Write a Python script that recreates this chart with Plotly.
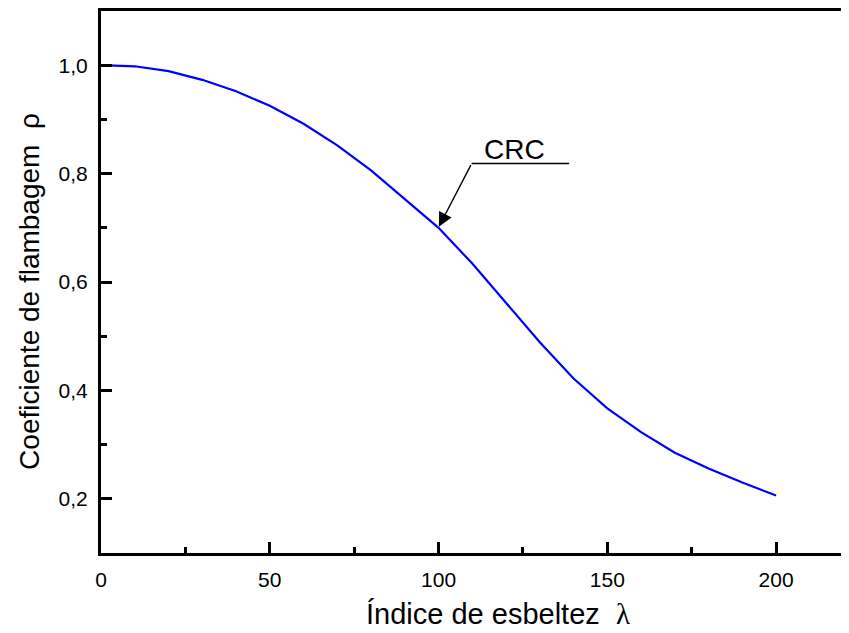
import plotly.graph_objects as go

slenderness = [0, 10, 20, 30, 40, 50, 60, 70, 80, 90, 100, 110, 120, 130, 140, 150, 160, 170, 180, 190, 200]
rho_crc = [1.000, 0.998, 0.989, 0.973, 0.952, 0.925, 0.892, 0.852, 0.806, 0.753, 0.700,
           0.634, 0.562, 0.489, 0.422, 0.367, 0.323, 0.285, 0.256, 0.230, 0.206]

x_ticks = [0, 50, 100, 150, 200]
y_ticks = [0.2, 0.4, 0.6, 0.8, 1.0]
y_tick_labels = ["0,2", "0,4", "0,6", "0,8", "1,0"]

FONT = "Liberation Sans, Arial, sans-serif"

fig = go.Figure()
fig.add_trace(go.Scatter(x=slenderness, y=rho_crc, mode="lines",
                         line=dict(color="#0000ff", width=2.2), showlegend=False))

# leader line + arrow + label
fig.add_shape(type="line", x0=109.8, y0=0.8185, x1=138.7, y1=0.8185,
              xref="x", yref="y", line=dict(color="black", width=1.5))
fig.add_annotation(x=100.1, y=0.702, ax=109.8, ay=0.8185, axref="x", ayref="y",
                   xref="x", yref="y", text="", showarrow=True,
                   arrowhead=2, arrowsize=2.0, arrowwidth=1.4, arrowcolor="black")
fig.add_annotation(x=122.4, y=0.845, xref="x", yref="y", text="CRC", showarrow=False,
                   font=dict(family=FONT, size=28, color="black"))

# axis titles
fig.add_annotation(x=0.531, y=-0.113, xref="paper", yref="paper", xanchor="center",
                   yanchor="middle", showarrow=False, borderpad=0,
                   text="Índice de esbeltez  <span style='font-family:Liberation Serif'>λ</span>",
                   font=dict(size=29, family=FONT, color="black"))
fig.add_annotation(x=-0.095, y=0.4835, xref="paper", yref="paper", xanchor="center",
                   yanchor="middle", showarrow=False, textangle=-90, borderpad=0,
                   text="Coeficiente de flambagem  ρ",
                   font=dict(size=28, family=FONT, color="black"))

fig.update_layout(
    width=841, height=625,
    margin=dict(l=93, r=0, t=1, b=80),
    paper_bgcolor="white", plot_bgcolor="white",
    font=dict(family=FONT, color="black"),
    showlegend=False,
)
fig.update_xaxes(
    range=[0, 221.6], tickvals=x_ticks, ticks="inside", ticklen=11, tickwidth=2.5,
    tickcolor="black", showline=True, linewidth=3, linecolor="black", mirror=True,
    showgrid=False, zeroline=False, tickfont=dict(size=21, family=FONT),
    ticklabelstandoff=6,
    minor=dict(dtick=25, tick0=0, ticks="inside", ticklen=6, tickwidth=2.5, tickcolor="black"),
)
fig.update_yaxes(
    range=[0.1, 1.1], tickvals=y_ticks, ticktext=y_tick_labels, ticks="inside",
    ticklen=11, tickwidth=2.5, tickcolor="black", showline=True, linewidth=3,
    linecolor="black", mirror=False, showgrid=False, zeroline=False,
    tickfont=dict(size=21, family=FONT), ticklabelstandoff=6,
    minor=dict(dtick=0.1, tick0=0.1, ticks="inside", ticklen=6, tickwidth=2.5, tickcolor="black"),
)

fig.write_html("out.html")
